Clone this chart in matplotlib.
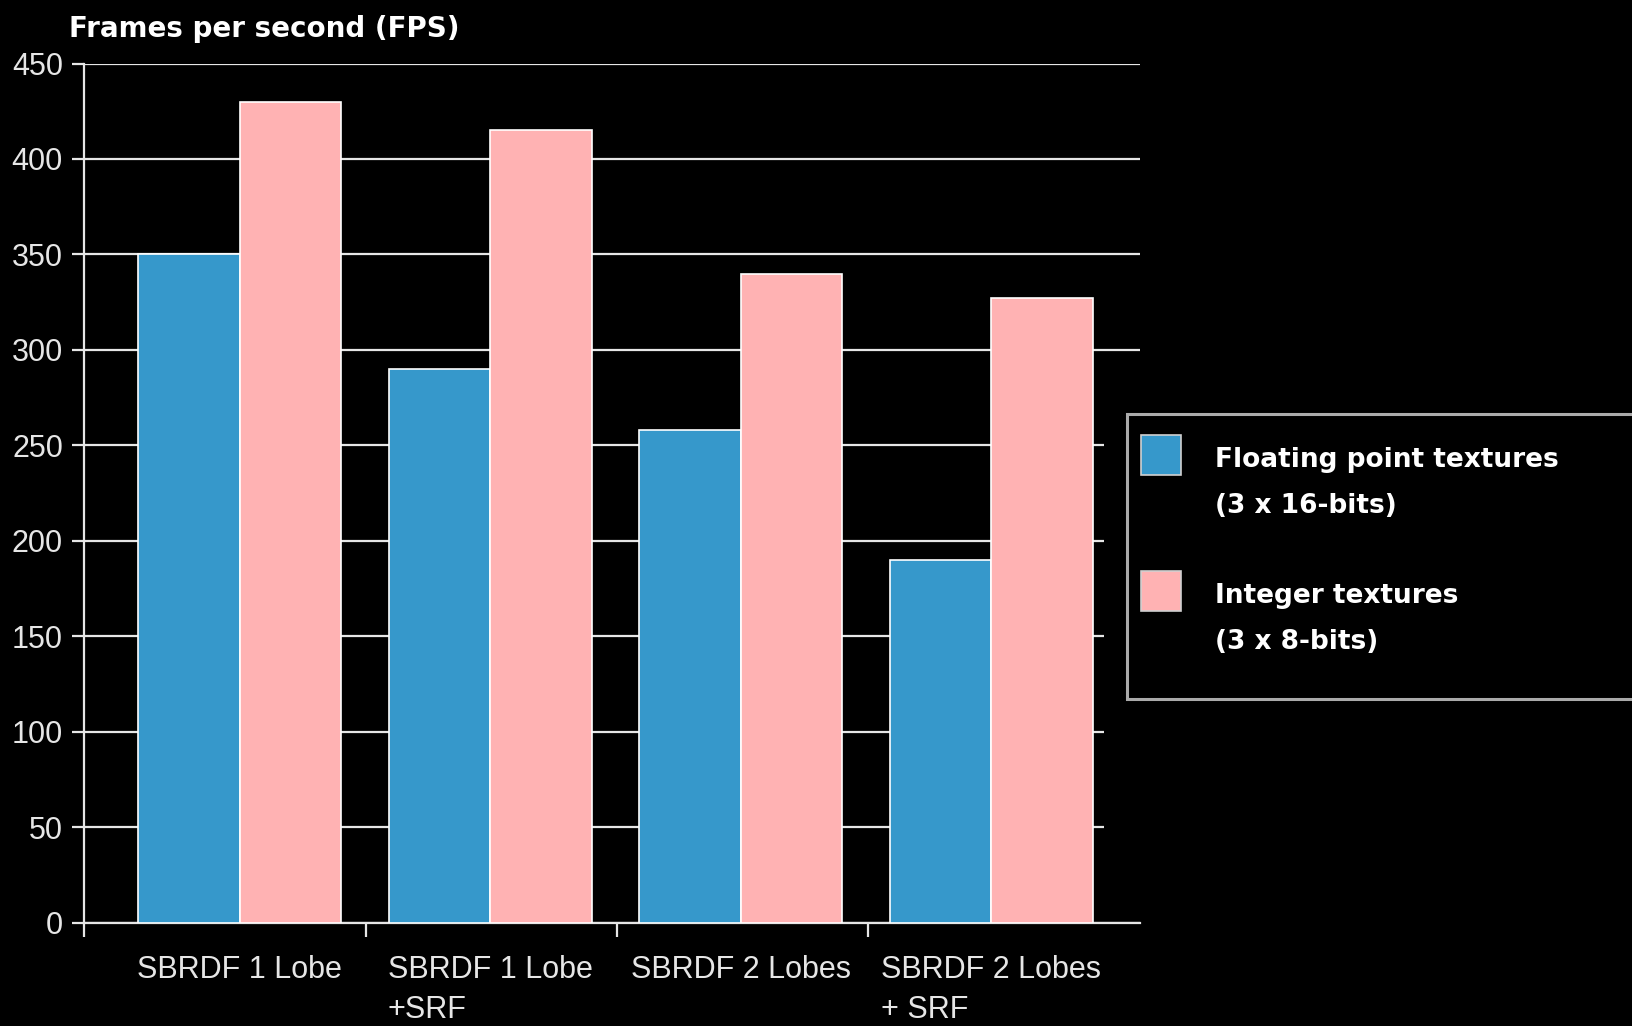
import matplotlib.pyplot as plt
from matplotlib.patches import Rectangle
import numpy as np

# FPS measurements per shading setup
setups = ['SBRDF 1 Lobe', 'SBRDF 1 Lobe\n+SRF', 'SBRDF 2 Lobes', 'SBRDF 2 Lobes\n+ SRF']
float_fps = [350, 290, 258, 190]
int_fps = [430, 415, 340, 327]
series_labels = ['Floating point textures\n(3 x 16-bits)', 'Integer textures\n(3 x 8-bits)']
yticks = [0, 50, 100, 150, 200, 250, 300, 350, 400, 450]

blue = '#3698cb'
pink = '#ffb2b3'
fg = '#e6e6e6'

plt.rcParams['font.family'] = ['Liberation Sans', 'DejaVu Sans']

fig = plt.figure(figsize=(16.33, 10.26), dpi=100, facecolor='black')
ax = fig.add_axes([0.0517, 0.1008, 0.6464, 0.8373])
ax.set_facecolor('black')

x = np.arange(len(setups))
w = 0.405
ax.bar(x - w / 2, float_fps, w, color=blue, edgecolor='white', linewidth=1.2, zorder=3)
ax.bar(x + w / 2, int_fps, w, color=pink, edgecolor='white', linewidth=1.2, zorder=3)

ax.set_xlim(-0.619, 3.594)
ax.set_ylim(0, 450)
ax.set_yticks(yticks)
ax.yaxis.grid(True, color=fg, linewidth=1.6, zorder=0)
ax.set_axisbelow(True)

for side in ['top', 'right']:
    ax.spines[side].set_visible(False)
for side in ['left', 'bottom']:
    ax.spines[side].set_color(fg)
    ax.spines[side].set_linewidth(1.6)

ax.set_xticks(x)
ax.set_xticklabels(setups, multialignment='left', linespacing=1.45)
ax.set_xticks([-0.619, 0.505, 1.505, 2.51], minor=True)
ax.tick_params(axis='x', which='major', length=0, pad=23, labelsize=22, labelcolor=fg)
ax.tick_params(axis='x', which='minor', length=10, width=1.6, color=fg)
ax.tick_params(axis='y', length=9, width=1.6, color=fg, labelsize=22, labelcolor=fg, pad=6.5)
ax.spines['left'].set_bounds(0, 450)

fig.text(69 / 1633, 1 - 37 / 1026, 'Frames per second (FPS)', color='white',
         fontsize=20, fontweight='bold', family='DejaVu Sans', va='baseline')

# black panel behind the legend box, hides the grid ends
fig.add_artist(Rectangle((1104 / 1633, 1 - 896 / 1026), 0.4, (896 - 396) / 1026,
                         transform=fig.transFigure, facecolor='black', edgecolor='none', zorder=2))
fig.add_artist(Rectangle((1127 / 1633, 1 - 699 / 1026), 0.4, (699 - 414) / 1026,
                         transform=fig.transFigure, facecolor='black', edgecolor='#aaaaaa',
                         linewidth=2.2, zorder=3))

for i, (lab, col) in enumerate(zip(series_labels, [blue, pink])):
    top = 435 + i * 136
    fig.add_artist(Rectangle((1141 / 1633, 1 - (top + 40) / 1026), 40 / 1633, 40 / 1026,
                             transform=fig.transFigure, facecolor=col, edgecolor='#d0d0d0',
                             linewidth=1.2, zorder=4))
    fig.text(1215 / 1633, 1 - (top + 12) / 1026, lab, color='white', fontsize=19,
             fontweight='bold', family='DejaVu Sans', va='top', linespacing=2.0, zorder=5)

fig.savefig('out.png', dpi=100, facecolor='black')
